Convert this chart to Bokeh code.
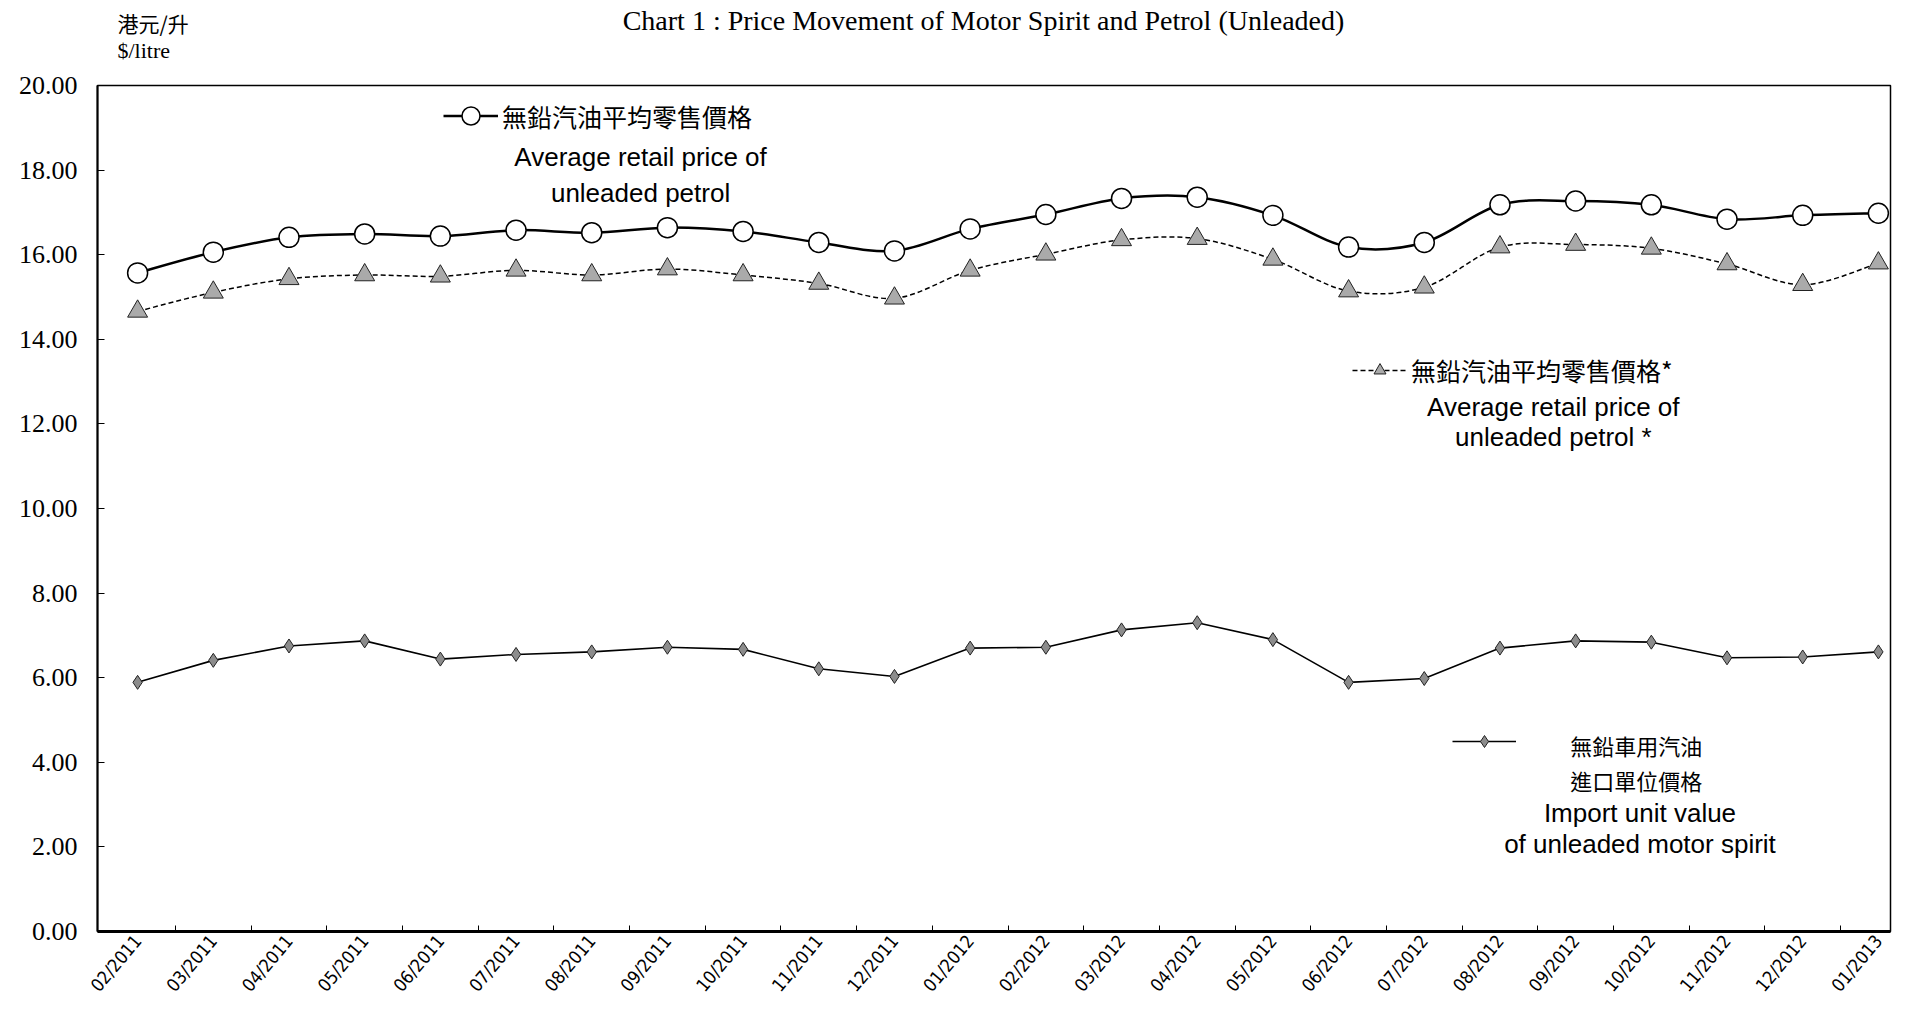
import numpy as np
from bokeh.plotting import figure
from bokeh.layouts import column
from bokeh.models import FixedTicker, PrintfTickFormatter, Label, Legend, LegendItem
from bokeh.embed import file_html
from bokeh.resources import INLINE

months = ["02/2011", "03/2011", "04/2011", "05/2011", "06/2011", "07/2011",
          "08/2011", "09/2011", "10/2011", "11/2011", "12/2011", "01/2012",
          "02/2012", "03/2012", "04/2012", "05/2012", "06/2012", "07/2012",
          "08/2012", "09/2012", "10/2012", "11/2012", "12/2012", "01/2013"]

retail = [15.57, 16.06, 16.41, 16.49, 16.44, 16.58, 16.52, 16.64, 16.55, 16.29,
          16.09, 16.61, 16.95, 17.33, 17.36, 16.93, 16.18, 16.29, 17.18, 17.27,
          17.18, 16.84, 16.93, 16.98]

retail_star = [14.66, 15.11, 15.43, 15.52, 15.49, 15.63, 15.52, 15.66, 15.52, 15.32,
               14.97, 15.63, 16.01, 16.35, 16.38, 15.89, 15.14, 15.23, 16.18, 16.24,
               16.15, 15.78, 15.29, 15.80]

import_value = [5.89, 6.41, 6.75, 6.87, 6.44, 6.55, 6.61, 6.72, 6.67, 6.21,
                6.03, 6.70, 6.72, 7.13, 7.30, 6.90, 5.89, 5.98, 6.70, 6.87,
                6.84, 6.47, 6.49, 6.61]

y_ticks = [0, 2, 4, 6, 8, 10, 12, 14, 16, 18, 20]

title_text = "Chart 1 : Price Movement of Motor Spirit and Petrol (Unleaded)"
unit_cn = "港元/升"
unit_en = "$/litre"

x = list(range(len(months)))


def smooth(xs, ys):
    """Bezier segments through the data points (Excel-style smoothed line)."""
    xs = np.asarray(xs, float)
    ys = np.asarray(ys, float)
    n = len(xs)
    d = dict(x0=[], y0=[], x1=[], y1=[], cx0=[], cy0=[], cx1=[], cy1=[])
    for i in range(n - 1):
        a = max(i - 1, 0)
        b = min(i + 2, n - 1)
        d["x0"].append(xs[i]); d["y0"].append(ys[i])
        d["x1"].append(xs[i + 1]); d["y1"].append(ys[i + 1])
        d["cx0"].append(xs[i] + (xs[i + 1] - xs[a]) / 6)
        d["cy0"].append(ys[i] + (ys[i + 1] - ys[a]) / 6)
        d["cx1"].append(xs[i + 1] - (xs[b] - xs[i]) / 6)
        d["cy1"].append(ys[i + 1] - (ys[b] - ys[i]) / 6)
    return d


# ---------- header (title and unit) ----------
# its frame is aligned with the chart frame (left 97, right 1890 px)
hdr = figure(width=1900, height=70, output_backend="svg", toolbar_location=None,
             x_range=(97, 1890), y_range=(0, 70), x_axis_type=None, y_axis_type=None,
             min_border_left=0, min_border_right=0, min_border_top=0,
             min_border_bottom=0)
hdr.xgrid.visible = False
hdr.ygrid.visible = False
hdr.outline_line_color = None
hdr.background_fill_color = "white"
hdr.border_fill_color = "white"
hdr.add_layout(Label(x=983, y=50.5, text=title_text, text_align="center",
                     text_baseline="middle", text_font="Liberation Serif",
                     text_font_size="28px", text_color="black"))
hdr.add_layout(Label(x=117, y=48, text=unit_cn, text_align="left",
                     text_baseline="middle", text_font="Noto Sans CJK TC",
                     text_font_size="21px", text_color="black"))
hdr.add_layout(Label(x=117, y=20, text=unit_en, text_align="left",
                     text_baseline="middle", text_font="Liberation Serif",
                     text_font_size="22px", text_color="black"))

# ---------- main chart ----------
p = figure(width=1900, height=935, output_backend="svg", toolbar_location=None,
           x_range=(-0.53, 23.16), y_range=(0, 20),
           min_border_left=97, min_border_right=10, min_border_top=15,
           min_border_bottom=74)
p.xgrid.visible = False
p.ygrid.visible = False
p.outline_line_color = "black"
p.outline_line_width = 1.5
p.background_fill_color = "white"
p.border_fill_color = "white"

# Y axis
p.yaxis.ticker = FixedTicker(ticks=y_ticks)
p.yaxis.formatter = PrintfTickFormatter(format="%.2f")
p.yaxis.major_label_text_font = "Liberation Serif"
p.yaxis.major_label_text_font_size = "26px"
p.yaxis.major_label_text_color = "black"
p.yaxis.major_tick_in = 7
p.yaxis.major_tick_out = 0
p.yaxis.minor_tick_in = 0
p.yaxis.minor_tick_out = 0
p.yaxis.axis_line_width = 2
p.yaxis.axis_line_color = "black"
p.yaxis.major_tick_line_color = "black"
p.yaxis.major_label_standoff = 20

# X axis
p.xaxis.ticker = FixedTicker(ticks=x, minor_ticks=[i + 0.5 for i in x[:-1]])
p.xaxis.major_label_overrides = {i: m for i, m in zip(x, months)}
p.xaxis.major_label_orientation = 0.87
p.xaxis.major_label_text_font = "Liberation Sans Narrow, DejaVu Sans Condensed, Liberation Sans"
p.xaxis.major_label_text_font_size = "18px"
p.xaxis.major_label_text_color = "black"
p.xaxis.major_tick_in = 0
p.xaxis.major_tick_out = 0
p.xaxis.minor_tick_in = 6
p.xaxis.minor_tick_out = 0
p.xaxis.minor_tick_line_color = "black"
p.xaxis.axis_line_width = 3
p.xaxis.axis_line_color = "black"
p.xaxis.major_label_standoff = 6

# Series 1: average retail price (solid, smoothed, open circles)
b1 = p.bezier(source=smooth(x, retail), x0="x0", y0="y0", x1="x1", y1="y1",
              cx0="cx0", cy0="cy0", cx1="cx1", cy1="cy1",
              line_color="black", line_width=2.5)
# Series 2: average retail price * (dashed, smoothed, grey triangles)
b2 = p.bezier(source=smooth(x, retail_star), x0="x0", y0="y0", x1="x1", y1="y1",
              cx0="cx0", cy0="cy0", cx1="cx1", cy1="cy1",
              line_color="black", line_width=1.5, line_dash="5 3")
# Series 3: import unit value (straight line, diamonds)
l3 = p.line(x, import_value, line_color="black", line_width=1.6)

s1 = p.scatter(x, retail, marker="circle", size=20, fill_color="white",
               line_color="black", line_width=1.5)
s2 = p.scatter(x, retail_star, marker="triangle", size=20, fill_color="#aaaaaa",
               line_color="#222222", line_width=1)
s3 = p.scatter(x, import_value, marker="diamond", size=14, fill_color="#8c8c8c",
               line_color="#222222", line_width=1)


def make_legend(label, renderers, loc, gw, gh, font_size):
    leg = Legend(items=[LegendItem(label=label, renderers=renderers)],
                 location=loc, glyph_width=gw, glyph_height=gh,
                 label_standoff=4, padding=0, margin=0, spacing=0,
                 border_line_alpha=0, background_fill_alpha=0,
                 label_text_font="Noto Sans CJK TC", label_text_font_size=font_size,
                 label_text_color="black", label_height=20)
    p.add_layout(leg)
    return leg


make_legend("無鉛汽油平均零售價格", [b1, s1], (346, 793), 55, 45, "25px")
make_legend("無鉛汽油平均零售價格*", [b2, s2], (1255, 543), 55, 30, "25px")
make_legend(" ", [l3, s3], (1355, 175), 64, 30, "10px")


def add_text(xv, yv, text, font, size, align="center"):
    p.add_layout(Label(x=xv, y=yv, text=text, text_align=align,
                       text_baseline="middle", text_font=font,
                       text_font_size=size, text_color="black"))


# legend descriptive lines
add_text(6.645, 18.32, "Average retail price of", "Liberation Sans", "26px")
add_text(6.645, 17.47, "unleaded petrol", "Liberation Sans", "26px")
add_text(18.705, 12.41, "Average retail price of", "Liberation Sans", "26px")
add_text(18.705, 11.68, "unleaded petrol *", "Liberation Sans", "26px")
add_text(19.80, 4.42, "無鉛車用汽油", "Noto Sans CJK TC", "22px")
add_text(19.80, 3.59, "進口單位價格", "Noto Sans CJK TC", "22px")
add_text(19.85, 2.79, "Import unit value", "Liberation Sans", "26px")
add_text(19.85, 2.06, "of unleaded motor spirit", "Liberation Sans", "26px")

layout = column(hdr, p, spacing=0)
open("out.html", "w").write(file_html(layout, INLINE))
